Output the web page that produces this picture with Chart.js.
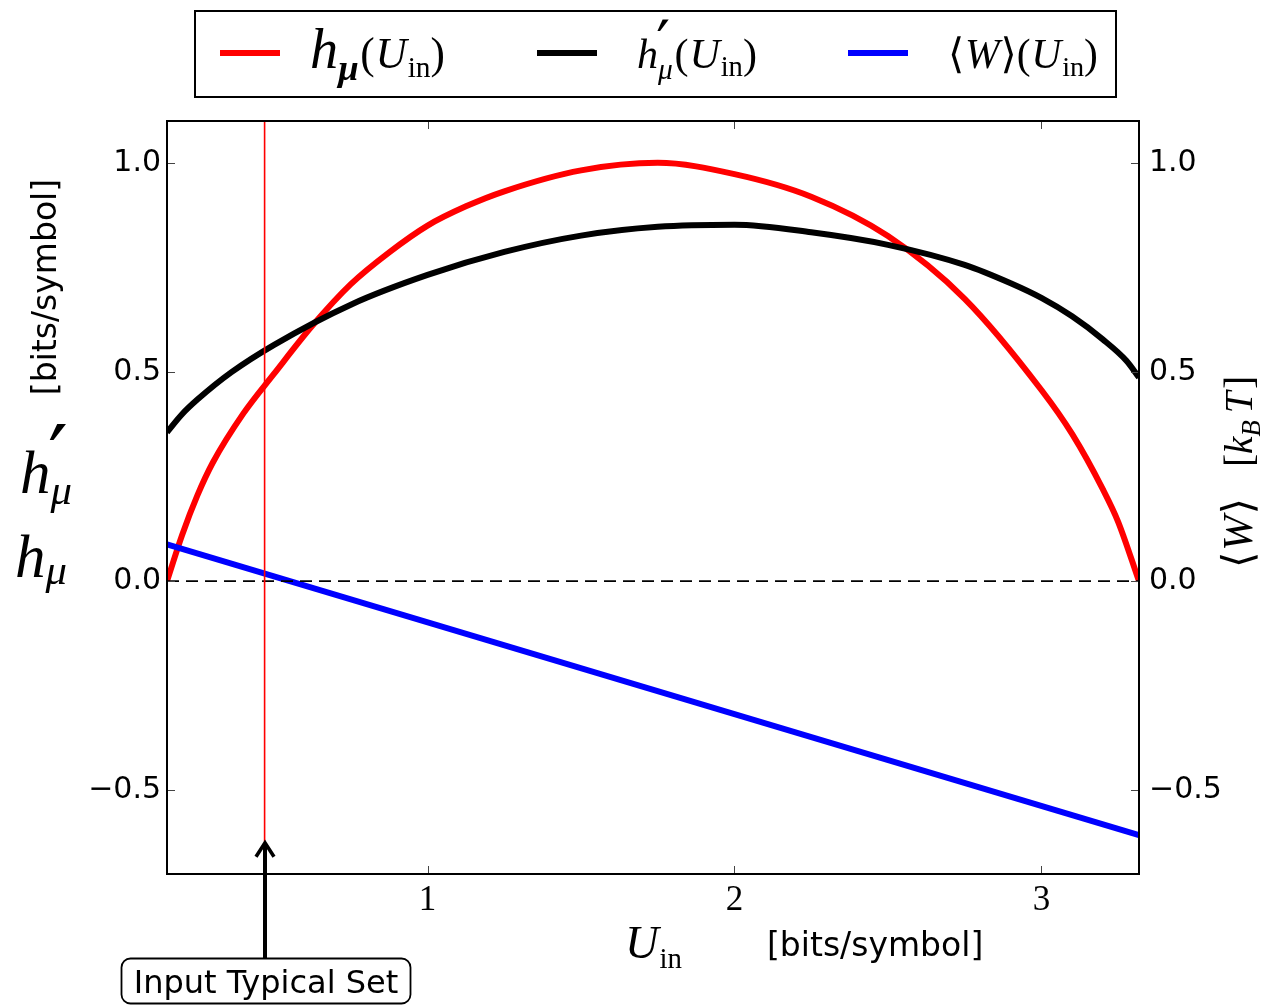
<!DOCTYPE html>
<html><head><meta charset="utf-8">
<script src="https://cdn.jsdelivr.net/npm/chart.js@4"></script>
<style>html,body{margin:0;padding:0;background:#fff}#wrap{width:1269px;height:1005px;position:relative}</style>
</head><body><div id="wrap"><canvas id="c" width="1269" height="1005"></canvas></div>
<script>
// ---------- data ----------
const redX   = [0.151, 0.2,   0.25,  0.3,   0.4,   0.5,   0.625, 0.75, 0.875, 1.0,  1.125, 1.25,  1.5,   1.75, 2.0,   2.25,  2.5,   2.75,  3.0,   3.1,   3.2,   3.25,  3.318];
const redY   = [0.0,   0.110, 0.205, 0.283, 0.401, 0.496, 0.611, 0.71, 0.786, 0.85, 0.896, 0.932, 0.982, 1.0,  0.973, 0.919, 0.825, 0.675, 0.457, 0.352, 0.220, 0.142, 0.0];
const blackX = [0.151, 0.2,   0.25,  0.36,  0.5,   0.75,  1.0,   1.25,  1.5,   1.75,  2.0,   2.25,  2.5,   2.75,  2.9,   3.0,   3.1,   3.2,   3.277, 3.318];
const blackY = [0.356, 0.399, 0.434, 0.499, 0.565, 0.661, 0.732, 0.787, 0.826, 0.847, 0.852, 0.834, 0.804, 0.756, 0.712, 0.677, 0.633, 0.578, 0.527, 0.487];
const blueX  = [0.151, 3.318];
const blueY  = [0.088, -0.607];
const zeroLineX = [0.151, 3.318];
const zeroLineY = [0, 0];
const typicalSetX = [0.469, 0.469];
const typicalSetY = [-0.623, 1.1];
const xTicks = [1, 2, 3];
const xTickLabels = ['1', '2', '3'];
const yTicks = [-0.5, 0.0, 0.5, 1.0];
const yTickLabels = ['\u22120.5', '0.0', '0.5', '1.0'];
const xRange = [0.151, 3.318];
const yRange = [-0.7, 1.1];
const annotationText = 'Input Typical Set';
const axisUnit = '[bits/symbol]';

const pts = (xs, ys) => xs.map((x, i) => ({x, y: ys[i]}));
const MATH = '"Liberation Serif","DejaVu Serif",serif';
const SANS = '"DejaVu Sans",sans-serif';

function pfont(p, size) {
  return (p.it ? 'italic ' : '') + (p.b ? 'bold ' : '') + size + 'px ' + (p.f || MATH);
}
function runWidth(ctx, parts, base) {
  let w = 0;
  for (const p of parts) {
    ctx.font = pfont(p, base * (p.r || 1));
    const pw = ctx.measureText(p.t).width;
    if (p.adv !== false) w += pw + (p.dx || 0) * base;
  }
  return w;
}
function drawMath(ctx, parts, x, y, targetW) {
  let base = 100;
  base = base * targetW / runWidth(ctx, parts, base);
  let cx = x;
  ctx.textAlign = 'left';
  ctx.textBaseline = 'alphabetic';
  for (const p of parts) {
    ctx.font = pfont(p, base * (p.r || 1));
    ctx.fillText(p.t, cx + (p.ox || 0) * base, y + (p.dy || 0) * base);
    if (p.adv !== false) cx += ctx.measureText(p.t).width + (p.dx || 0) * base;
  }
  return cx;
}
const PRIME = {t: '\u2032', f: '"DejaVu Serif",serif', r: 1.45, dy: -0.08, ox: -0.04, adv: false};

const deco = {
  id: 'deco',
  beforeDraw(chart) {
    const c = chart.ctx;
    c.save(); c.fillStyle = '#fff'; c.fillRect(0, 0, chart.width, chart.height); c.restore();
  },
  afterDatasetsDraw(chart) {
    const c = chart.ctx, a = chart.chartArea;
    const xs = chart.scales.x, ys = chart.scales.y;
    c.save();
    c.strokeStyle = '#444'; c.lineWidth = 1;
    c.beginPath();
    for (const v of xTicks) {
      const px = Math.round(xs.getPixelForValue(v)) + 0.5;
      c.moveTo(px, a.bottom); c.lineTo(px, a.bottom - 8);
      c.moveTo(px, a.top); c.lineTo(px, a.top + 8);
    }
    for (const v of yTicks) {
      const py = Math.round(ys.getPixelForValue(v)) + 0.5;
      c.moveTo(a.left, py); c.lineTo(a.left + 8, py);
      c.moveTo(a.right, py); c.lineTo(a.right - 8, py);
    }
    c.stroke();
    c.strokeStyle = '#000'; c.lineWidth = 2;
    c.strokeRect(a.left, a.top, a.right - a.left, a.bottom - a.top);
    c.restore();
  },
  afterDraw(chart) {
    const c = chart.ctx;
    const xs = chart.scales.x, ys = chart.scales.y;
    c.save();
    // ----- legend -----
    c.fillStyle = '#fff';
    c.fillRect(195, 11, 921, 86);
    c.strokeStyle = '#000'; c.lineWidth = 2;
    c.strokeRect(195, 11, 921, 86);
    const legendItems = [
      {col: '#ff0000', x0: 220, tx: 310, tw: 135, parts: [
        {t: 'h', it: 1, r: 1.3}, {t: '\u03bc', it: 1, b: 1, r: 0.85, dy: 0.28, dx: 0.04},
        {t: '(', dx: 0.02}, {t: 'U', it: 1, dx: 0.02}, {t: 'in', r: 0.68, dy: 0.2}, {t: ')'}]},
      {col: '#000000', x0: 537, tx: 637, tw: 120, parts: [
        {t: 'h', it: 1}, PRIME,
        {t: '\u03bc', it: 1, r: 0.7, dy: 0.25, dx: 0.04},
        {t: '(', dx: 0.02}, {t: 'U', it: 1, dx: 0.02}, {t: 'in', r: 0.68, dy: 0.2}, {t: ')'}]},
      {col: '#0000ff', x0: 848, tx: 948, tw: 150, parts: [
        {t: '\u27e8', dx: 0.02}, {t: 'W', it: 1, dx: 0.02}, {t: '\u27e9'},
        {t: '(', dx: 0.02}, {t: 'U', it: 1, dx: 0.02}, {t: 'in', r: 0.68, dy: 0.2}, {t: ')'}]}
    ];
    for (const it of legendItems) {
      c.strokeStyle = it.col; c.lineWidth = 6; c.lineCap = 'butt';
      c.beginPath(); c.moveTo(it.x0, 53); c.lineTo(it.x0 + 60, 53); c.stroke();
      c.fillStyle = '#000';
      drawMath(c, it.parts, it.tx, 68, it.tw);
    }
    // ----- left axis labels -----
    c.fillStyle = '#000';
    c.save();
    c.translate(56, 287); c.rotate(-Math.PI / 2);
    c.font = '33px ' + SANS; c.textAlign = 'center'; c.textBaseline = 'alphabetic';
    c.fillText(axisUnit, 0, 0);
    c.restore();
    drawMath(c, [{t: 'h', it: 1}, PRIME, {t: '\u03bc', it: 1, r: 0.7, dy: 0.18}], 20, 493, 52);
    drawMath(c, [{t: 'h', it: 1}, {t: '\u03bc', it: 1, r: 0.7, dy: 0.12}], 15, 577, 52);
    // ----- bottom axis label -----
    drawMath(c, [{t: 'U', it: 1, dx: 0.02}, {t: 'in', r: 0.62, dy: 0.22}], 625, 958, 57);
    c.font = '33px ' + SANS; c.textAlign = 'left'; c.textBaseline = 'alphabetic';
    c.fillText(axisUnit, 767, 956);
    // ----- right axis label -----
    c.save();
    c.translate(1252, 568); c.rotate(-Math.PI / 2);
    drawMath(c, [{t: '\u27e8', dx: 0.02}, {t: 'W', it: 1, dx: 0.02}, {t: '\u27e9'}], 0, 0, 70);
    drawMath(c, [{t: '['}, {t: 'k', it: 1}, {t: 'B', it: 1, r: 0.68, dy: 0.2, dx: 0.18}, {t: 'T', it: 1, dx: 0.06}, {t: ']'}], 101, 0, 91);
    c.restore();
    // ----- annotation -----
    const ax = Math.round(xs.getPixelForValue(typicalSetX[0]));
    const tipY = ys.getPixelForValue(typicalSetY[0]);
    c.strokeStyle = '#000'; c.lineWidth = 4; c.lineCap = 'butt';
    c.beginPath(); c.moveTo(ax, 958); c.lineTo(ax, tipY + 3); c.stroke();
    c.lineWidth = 3.6; c.lineJoin = 'miter';
    c.beginPath(); c.moveTo(ax - 9, tipY + 15); c.lineTo(ax, tipY + 1); c.lineTo(ax + 9, tipY + 15); c.stroke();
    c.lineWidth = 1.8;
    c.beginPath();
    if (c.roundRect) c.roundRect(121.5, 958.5, 289, 45, 9); else c.rect(121.5, 958.5, 289, 45);
    c.fillStyle = '#fff'; c.fill(); c.stroke();
    c.fillStyle = '#000';
    c.font = '32px ' + SANS; c.textAlign = 'center'; c.textBaseline = 'alphabetic';
    c.fillText(annotationText, 266, 993);
    c.restore();
  }
};

const tickCb = (ticks, labels) => function(v) {
  const i = ticks.findIndex(t => Math.abs(t - v) < 1e-9);
  return i >= 0 ? labels[i] : '';
};

new Chart(document.getElementById('c'), {
  type: 'scatter',
  data: {
    datasets: [
      {label: 'h_mu(U_in)', data: pts(redX, redY), showLine: true, borderColor: '#ff0000', borderWidth: 6, pointRadius: 0, cubicInterpolationMode: 'monotone', order: 5, clip: 0},
      {label: "h'_mu(U_in)", data: pts(blackX, blackY), showLine: true, borderColor: '#000000', borderWidth: 6, pointRadius: 0, cubicInterpolationMode: 'monotone', order: 4, clip: 0},
      {label: '<W>(U_in)', data: pts(blueX, blueY), showLine: true, borderColor: '#0000ff', borderWidth: 6, pointRadius: 0, order: 3, clip: 0},
      {label: 'zero', data: pts(zeroLineX, zeroLineY), showLine: true, borderColor: '#000000', borderWidth: 1.6, borderDash: [12, 7], pointRadius: 0, order: 2, clip: 0},
      {label: 'typical set', data: pts(typicalSetX, typicalSetY), showLine: true, borderColor: '#ff0000', borderWidth: 1.6, pointRadius: 0, order: 1, clip: 0}
    ]
  },
  options: {
    responsive: false, animation: false, devicePixelRatio: 1,
    layout: {padding: {top: 121, left: 0, right: 0, bottom: 0}},
    plugins: {legend: {display: false}, tooltip: {enabled: false}, title: {display: false}},
    scales: {
      x: {
        type: 'linear', position: 'bottom', min: xRange[0], max: xRange[1],
        grid: {display: false, drawTicks: false}, border: {display: false},
        afterBuildTicks: s => { s.ticks = xTicks.map(v => ({value: v})); },
        afterFit: s => { s.height = 131; },
        ticks: {callback: tickCb(xTicks, xTickLabels), font: {family: 'Liberation Serif', size: 35}, color: '#000', padding: 6, maxRotation: 0, autoSkip: false}
      },
      y: {
        type: 'linear', position: 'left', min: yRange[0], max: yRange[1],
        grid: {display: false, drawTicks: false}, border: {display: false},
        afterBuildTicks: s => { s.ticks = yTicks.map(v => ({value: v})); },
        afterFit: s => { s.width = 167; },
        ticks: {callback: tickCb(yTicks, yTickLabels), font: {family: 'DejaVu Sans', size: 30}, color: '#000', padding: 6, autoSkip: false}
      },
      y2: {
        type: 'linear', position: 'right', min: yRange[0], max: yRange[1],
        grid: {display: false, drawTicks: false}, border: {display: false},
        afterBuildTicks: s => { s.ticks = yTicks.map(v => ({value: v})); },
        afterFit: s => { s.width = 130; },
        ticks: {callback: tickCb(yTicks, yTickLabels), font: {family: 'DejaVu Sans', size: 30}, color: '#000', padding: 10, autoSkip: false}
      }
    }
  },
  plugins: [deco]
});
</script>
</body></html>
